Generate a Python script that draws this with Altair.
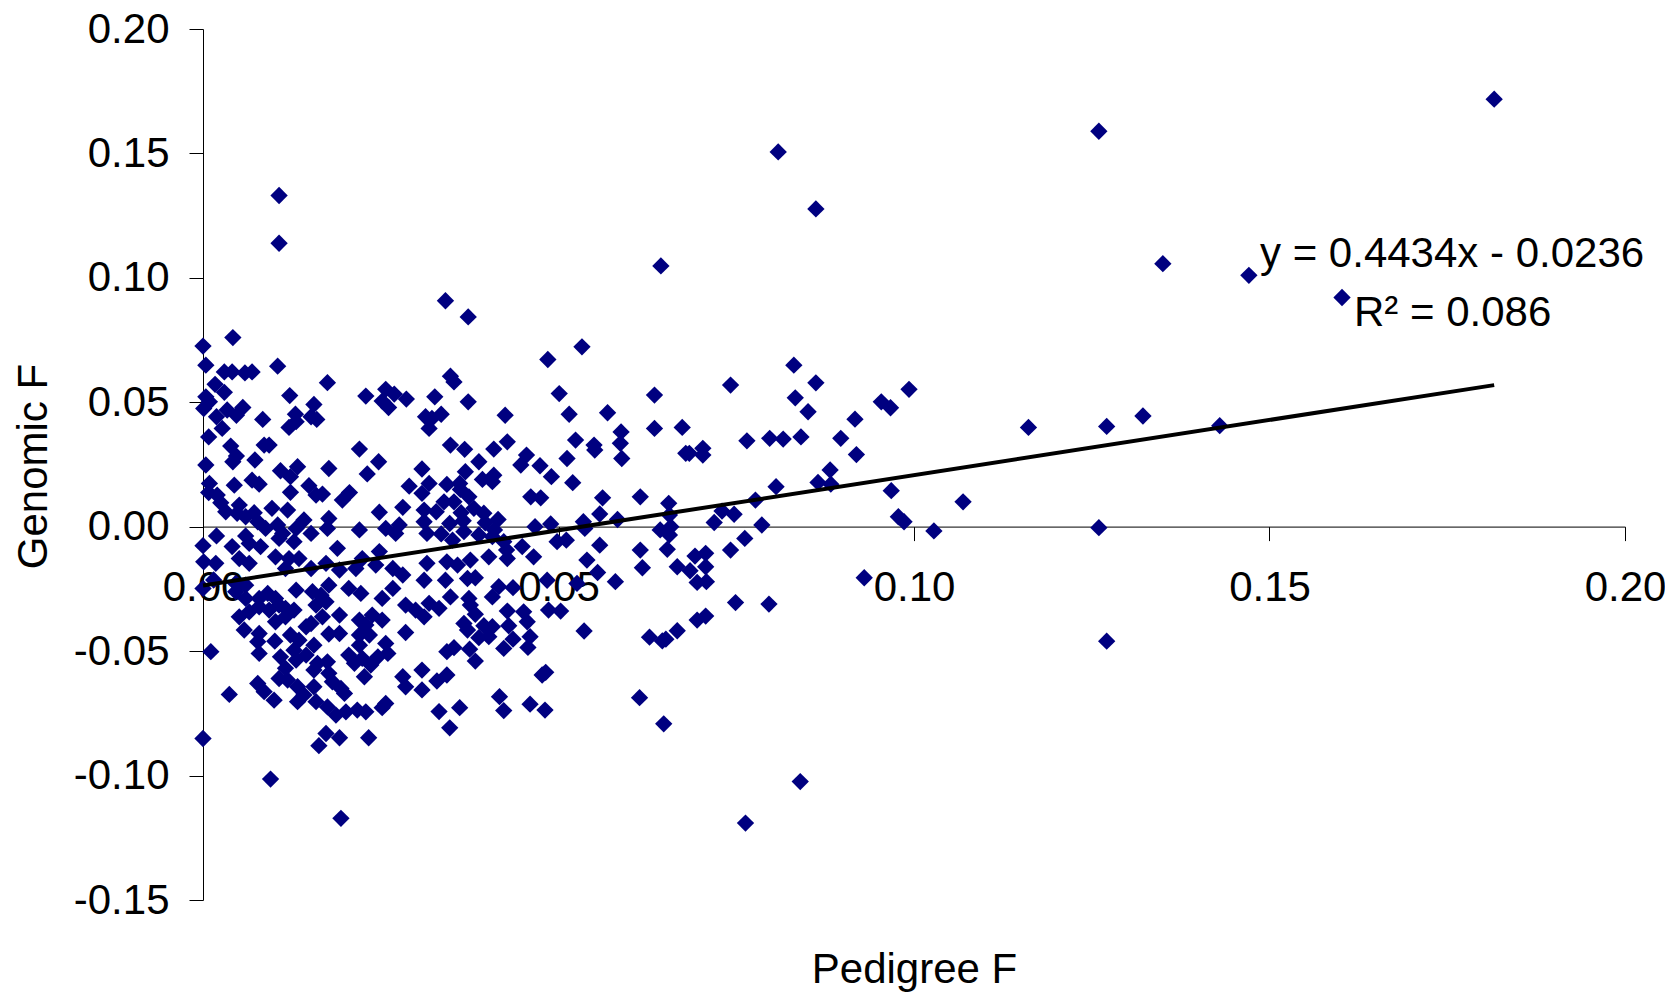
import altair as alt
import pandas as pd

# (Pedigree F, Genomic F) pairs, grouped by area
upper_left = [
    (0.0042, 0.0760), (0.0000, 0.0726), (0.0004, 0.0649), (0.0030, 0.0622), (0.0041, 0.0622),
    (0.0059, 0.0618), (0.0069, 0.0622), (0.0105, 0.0645), (0.0175, 0.0579), (0.0017, 0.0572),
    (0.0030, 0.0540), (0.0122, 0.0527), (0.0229, 0.0525), (0.0257, 0.0552), (0.0269, 0.0533),
    (0.0286, 0.0513), (0.0252, 0.0505), (0.0261, 0.0479), (0.0156, 0.0491), (0.0004, 0.0522),
    (0.0009, 0.0502), (0.0001, 0.0475), (0.0034, 0.0469), (0.0047, 0.0448), (0.0056, 0.0479),
    (0.0019, 0.0442), (0.0084, 0.0431), (0.0130, 0.0452), (0.0121, 0.0399), (0.0131, 0.0422),
    (0.0152, 0.0442), (0.0160, 0.0431), (0.0027, 0.0395), (0.0008, 0.0361), (0.0039, 0.0324),
    (0.0086, 0.0328), (0.0093, 0.0328), (0.0220, 0.0312), (0.0047, 0.0284), (0.0042, 0.0261),
    (0.0073, 0.0268), (0.0247, 0.0261), (0.0004, 0.0248), (0.0109, 0.0225), (0.0133, 0.0241),
    (0.0123, 0.0201), (0.0177, 0.0234), (0.0231, 0.0212), (0.0009, 0.0174), (0.0044, 0.0167),
    (0.0069, 0.0187), (0.0079, 0.0171), (0.0149, 0.0165), (0.0290, 0.0163), (0.0123, 0.0138),
    (0.0159, 0.0127), (0.0168, 0.0131), (0.0196, 0.0107), (0.0206, 0.0137), (0.0008, 0.0137),
    (0.0020, 0.0127), (0.0025, 0.0096), (0.0032, 0.0060), (0.0051, 0.0087), (0.0048, 0.0054),
    (0.0060, 0.0040), (0.0072, 0.0056), (0.0097, 0.0074), (0.0119, 0.0067), (0.0248, 0.0058),
    (0.0281, 0.0078), (0.0077, 0.0020), (0.0088, -0.0007), (0.0105, 0.0007), (0.0112, -0.0027),
    (0.0131, -0.0007), (0.0142, 0.0027), (0.0152, -0.0027), (0.0177, 0.0033), (0.0175, -0.0007),
    (0.0220, -0.0013), (0.0257, -0.0007), (0.0271, -0.0027), (0.0276, 0.0007), (0.0019, -0.0037),
    (0.0060, -0.0037), (0.0065, -0.0067), (0.0000, -0.0076), (0.0041, -0.0080), (0.0081, -0.0080),
    (0.0107, -0.0047), (0.0128, -0.0060), (0.0189, -0.0087), (0.0248, -0.0100),
]

upper_mid = [
    (0.0533, 0.0723), (0.0485, 0.0672), (0.0348, 0.0605), (0.0353, 0.0582), (0.0326, 0.0522),
    (0.0373, 0.0502), (0.0501, 0.0535), (0.0515, 0.0452), (0.0569, 0.0458), (0.0425, 0.0448),
    (0.0313, 0.0442), (0.0322, 0.0435), (0.0335, 0.0452), (0.0318, 0.0395), (0.0588, 0.0381),
    (0.0587, 0.0335), (0.0524, 0.0348), (0.0550, 0.0328), (0.0551, 0.0308), (0.0348, 0.0328),
    (0.0368, 0.0311), (0.0409, 0.0312), (0.0428, 0.0341), (0.0455, 0.0288), (0.0447, 0.0248),
    (0.0474, 0.0245), (0.0512, 0.0274), (0.0589, 0.0274), (0.0388, 0.0261), (0.0369, 0.0221),
    (0.0393, 0.0190), (0.0409, 0.0207), (0.0407, 0.0181), (0.0490, 0.0201), (0.0520, 0.0177),
    (0.0308, 0.0232), (0.0318, 0.0174), (0.0343, 0.0170), (0.0361, 0.0174), (0.0362, 0.0150),
    (0.0374, 0.0120), (0.0353, 0.0100), (0.0339, 0.0100), (0.0328, 0.0060), (0.0308, 0.0134),
    (0.0311, 0.0067), (0.0461, 0.0120), (0.0475, 0.0116), (0.0562, 0.0116), (0.0615, 0.0120),
    (0.0381, 0.0074), (0.0363, 0.0056), (0.0395, 0.0054), (0.0415, 0.0029), (0.0558, 0.0051),
    (0.0583, 0.0029), (0.0347, 0.0013), (0.0366, 0.0024), (0.0397, 0.0016), (0.0311, 0.0020),
    (0.0367, -0.0020), (0.0410, -0.0013), (0.0335, -0.0029), (0.0315, -0.0027), (0.0467, 0.0000),
    (0.0489, 0.0011), (0.0537, -0.0007), (0.0535, 0.0020), (0.0351, -0.0054), (0.0388, -0.0033),
    (0.0407, -0.0040), (0.0498, -0.0060), (0.0511, -0.0054), (0.0558, -0.0074), (0.0615, -0.0094),
    (0.0423, -0.0060), (0.0449, -0.0080), (0.0427, -0.0094),
]

lower_left = [
    (0.0001, -0.0141), (0.0018, -0.0147), (0.0051, -0.0128), (0.0065, -0.0147), (0.0102, -0.0121),
    (0.0121, -0.0128), (0.0135, -0.0128), (0.0116, -0.0168), (0.0152, -0.0168), (0.0173, -0.0147),
    (0.0192, -0.0174), (0.0215, -0.0168), (0.0224, -0.0128), (0.0243, -0.0154), (0.0267, -0.0168),
    (0.0281, -0.0194), (0.0000, -0.0248), (0.0015, -0.0214), (0.0046, -0.0228), (0.0060, -0.0235),
    (0.0046, -0.0261), (0.0060, -0.0288), (0.0079, -0.0288), (0.0091, -0.0268), (0.0102, -0.0288),
    (0.0131, -0.0255), (0.0154, -0.0261), (0.0166, -0.0275), (0.0177, -0.0235), (0.0205, -0.0248),
    (0.0222, -0.0268), (0.0252, -0.0288), (0.0267, -0.0248), (0.0285, -0.0315), (0.0299, -0.0335),
    (0.0051, -0.0362), (0.0065, -0.0342), (0.0079, -0.0322), (0.0093, -0.0335), (0.0107, -0.0315),
    (0.0116, -0.0328), (0.0102, -0.0382), (0.0116, -0.0362), (0.0128, -0.0335), (0.0159, -0.0315),
    (0.0173, -0.0302), (0.0168, -0.0362), (0.0152, -0.0389), (0.0145, -0.0402), (0.0192, -0.0355),
    (0.0220, -0.0375), (0.0229, -0.0395), (0.0238, -0.0355), (0.0252, -0.0375), (0.0058, -0.0415),
    (0.0079, -0.0429), (0.0077, -0.0462), (0.0101, -0.0460), (0.0123, -0.0435), (0.0135, -0.0456),
    (0.0156, -0.0476), (0.0177, -0.0431), (0.0192, -0.0429), (0.0220, -0.0435), (0.0234, -0.0435),
    (0.0220, -0.0476), (0.0257, -0.0469), (0.0285, -0.0425), (0.0011, -0.0502), (0.0079, -0.0509),
    (0.0109, -0.0523), (0.0128, -0.0496), (0.0131, -0.0536), (0.0145, -0.0516), (0.0161, -0.0549),
    (0.0175, -0.0543), (0.0205, -0.0516), (0.0213, -0.0549), (0.0224, -0.0529), (0.0246, -0.0523),
    (0.0260, -0.0509), (0.0236, -0.0556), (0.0156, -0.0576), (0.0116, -0.0569), (0.0177, -0.0589),
    (0.0227, -0.0603), (0.0107, -0.0610), (0.0119, -0.0616), (0.0182, -0.0623), (0.0281, -0.0603),
    (0.0285, -0.0643), (0.0037, -0.0674), (0.0077, -0.0630), (0.0086, -0.0663), (0.0100, -0.0697),
    (0.0133, -0.0643), (0.0142, -0.0676), (0.0133, -0.0703), (0.0156, -0.0643), (0.0159, -0.0703),
    (0.0194, -0.0650), (0.0199, -0.0670), (0.0175, -0.0724), (0.0187, -0.0757), (0.0201, -0.0744),
    (0.0217, -0.0737), (0.0229, -0.0744), (0.0252, -0.0727), (0.0257, -0.0710), (0.0173, -0.0831),
    (0.0192, -0.0848), (0.0163, -0.0880), (0.0233, -0.0848), (0.0000, -0.0851), (0.0095, -0.1014),
    (0.0194, -0.1172),
]

lower_mid = [
    (0.0315, -0.0147), (0.0343, -0.0141), (0.0358, -0.0154), (0.0376, -0.0134), (0.0402, -0.0121),
    (0.0428, -0.0128), (0.0465, -0.0121), (0.0540, -0.0134), (0.0618, -0.0165), (0.0311, -0.0215),
    (0.0341, -0.0215), (0.0372, -0.0208), (0.0383, -0.0205), (0.0416, -0.0241), (0.0407, -0.0282),
    (0.0436, -0.0245), (0.0484, -0.0215), (0.0526, -0.0228), (0.0555, -0.0184), (0.0580, -0.0221),
    (0.0318, -0.0308), (0.0332, -0.0328), (0.0348, -0.0282), (0.0374, -0.0288), (0.0376, -0.0315),
    (0.0311, -0.0362), (0.0383, -0.0352), (0.0428, -0.0339), (0.0451, -0.0342), (0.0486, -0.0335),
    (0.0503, -0.0339), (0.0456, -0.0382), (0.0367, -0.0389), (0.0395, -0.0398), (0.0407, -0.0402),
    (0.0372, -0.0415), (0.0430, -0.0398), (0.0388, -0.0446), (0.0402, -0.0442), (0.0436, -0.0452),
    (0.0460, -0.0442), (0.0536, -0.0419), (0.0343, -0.0502), (0.0353, -0.0486), (0.0375, -0.0492),
    (0.0423, -0.0489), (0.0457, -0.0485), (0.0383, -0.0540), (0.0308, -0.0576), (0.0329, -0.0620),
    (0.0343, -0.0596), (0.0308, -0.0656), (0.0477, -0.0596), (0.0482, -0.0585), (0.0417, -0.0683),
    (0.0423, -0.0739), (0.0460, -0.0713), (0.0481, -0.0737), (0.0332, -0.0743), (0.0361, -0.0727),
    (0.0347, -0.0808), (0.0614, -0.0687),
]

middle_right = [
    (0.0831, 0.0649), (0.0742, 0.0569), (0.0862, 0.0578), (0.0993, 0.0552), (0.0635, 0.0529),
    (0.0833, 0.0518), (0.0851, 0.0462), (0.0954, 0.0502), (0.0967, 0.0478), (0.0917, 0.0432),
    (0.0635, 0.0395), (0.0674, 0.0399), (0.0765, 0.0345), (0.0797, 0.0355), (0.0816, 0.0352),
    (0.0841, 0.0361), (0.0897, 0.0355), (0.0679, 0.0295), (0.0684, 0.0295), (0.0703, 0.0315),
    (0.0703, 0.0288), (0.0919, 0.0290), (0.0882, 0.0228), (0.0865, 0.0178), (0.0883, 0.0171),
    (0.0806, 0.0161), (0.0968, 0.0145), (0.0777, 0.0107), (0.1069, 0.0100), (0.0655, 0.0094),
    (0.0730, 0.0063), (0.0747, 0.0050), (0.0656, 0.0047), (0.0719, 0.0017), (0.0643, -0.0013),
    (0.0658, 0.0000), (0.0656, -0.0033), (0.0786, 0.0007), (0.0978, 0.0040), (0.0986, 0.0020),
    (0.1028, -0.0017), (0.0653, -0.0091), (0.0742, -0.0094), (0.0762, -0.0047), (0.0692, -0.0118),
    (0.0707, -0.0107), (0.0667, -0.0161), (0.0685, -0.0177), (0.0707, -0.0161), (0.0695, -0.0224),
    (0.0708, -0.0221), (0.0749, -0.0305), (0.0796, -0.0311), (0.0930, -0.0205), (0.0695, -0.0375),
    (0.0707, -0.0359), (0.0667, -0.0418), (0.0628, -0.0444), (0.0646, -0.0459), (0.0651, -0.0452),
    (0.0648, -0.0792), (0.0840, -0.1024), (0.0763, -0.1191),
]

high_outliers = [
    (0.0107, 0.1331), (0.0107, 0.1139), (0.0341, 0.0908), (0.0373, 0.0843), (0.0644, 0.1048),
    (0.0862, 0.1277), (0.0809, 0.1506),
]

far_right = [
    (0.1816, 0.1718), (0.1260, 0.1589), (0.1350, 0.1057), (0.1471, 0.1010), (0.1602, 0.0921),
    (0.1161, 0.0399), (0.1271, 0.0403), (0.1322, 0.0445), (0.1430, 0.0406), (0.1260, -0.0004),
    (0.1271, -0.0460),
]

# Linear trendline as printed on the chart: y = 0.4434x - 0.0236
trend_x = [0.0, 0.1816]
trend_y = [-0.0236, 0.0569]

x_ticks = [0.0, 0.05, 0.10, 0.15, 0.20]
y_ticks = [-0.15, -0.10, -0.05, 0.0, 0.05, 0.10, 0.15, 0.20]

equation_text = "y = 0.4434x - 0.0236"
r2_text = "R\u00b2 = 0.086"

FONT = "Liberation Sans"
NAVY = "#000080"
FS = 42

points = (upper_left + upper_mid + lower_left + lower_mid + middle_right
          + high_outliers + far_right)
df = pd.DataFrame(points, columns=["pedigree", "genomic"])
trend_df = pd.DataFrame({"pedigree": trend_x, "genomic": trend_y})

x_scale = alt.Scale(domain=[0.0, 0.2], nice=False, zero=False)
y_scale = alt.Scale(domain=[-0.15, 0.2], nice=False, zero=False)

W, H = 1422, 871

x_axis = alt.Axis(
    values=x_ticks, format=".2f", orient="bottom", offset=-373.4,
    tickSize=14, labelPadding=60, labelBaseline="alphabetic",
    labelFont=FONT, labelFontSize=FS, labelColor="black",
    domainColor="black", tickColor="black", grid=False,
    title="Pedigree F", titleFont=FONT, titleFontSize=FS,
    titleFontWeight="normal", titleColor="black",
    titleBaseline="alphabetic", titleY=456, titleX=W / 2,
    labelOverlap=False, labelFlush=False,
)
y_axis = alt.Axis(
    values=y_ticks, format=".2f", tickSize=14, labelPadding=20,
    labelFont=FONT, labelFontSize=FS, labelColor="black",
    labelExpr="replace(datum.label, '\u2212', '-')",
    domainColor="black", tickColor="black", grid=False,
    title="Genomic F", titleFont=FONT, titleFontSize=FS,
    titleFontWeight="normal", titleColor="black",
    titleBaseline="alphabetic", titleAngle=270, titleX=-157, titleY=437,
    labelOverlap=False, labelFlush=False,
)

scatter = alt.Chart(df).mark_point(
    shape="diamond", filled=True, size=300, color=NAVY, opacity=1
).encode(
    x=alt.X("pedigree:Q", scale=x_scale, axis=x_axis),
    y=alt.Y("genomic:Q", scale=y_scale, axis=y_axis),
)

trend = alt.Chart(trend_df).mark_line(color="black", strokeWidth=4).encode(
    x=alt.X("pedigree:Q", scale=x_scale),
    y=alt.Y("genomic:Q", scale=y_scale),
)

eq = alt.Chart(pd.DataFrame({"t": [equation_text]})).mark_text(
    align="left", baseline="alphabetic", font=FONT, fontSize=FS, color="black"
).encode(x=alt.value(1057), y=alt.value(238), text="t:N")

r2 = alt.Chart(pd.DataFrame({"t": [r2_text]})).mark_text(
    align="left", baseline="alphabetic", font=FONT, fontSize=FS, color="black"
).encode(x=alt.value(1151), y=alt.value(297), text="t:N")

chart = alt.layer(scatter, trend, eq, r2).properties(
    width=W, height=H,
    autosize=alt.AutoSizeParams(type="none"),
    padding={"left": 195, "top": 21, "right": 40, "bottom": 92},
    background="white",
).configure_view(stroke=None, strokeWidth=0)

chart.save("out.html", embed_options={"renderer": "svg", "actions": False})
